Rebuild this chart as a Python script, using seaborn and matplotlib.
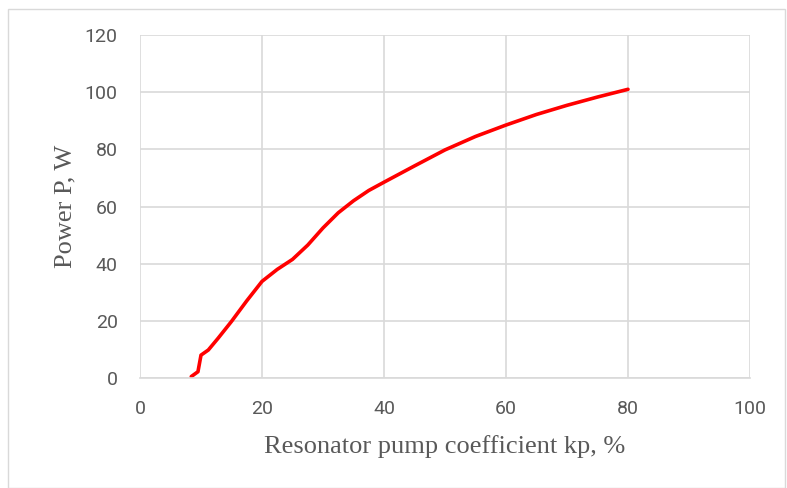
import matplotlib
matplotlib.use("Agg")
import matplotlib.pyplot as plt
import seaborn as sns
import pandas as pd
from matplotlib.patches import Rectangle

# Data
kp = [8.4, 9.5, 10.0, 11.2, 12.8, 15.0, 17.5, 20.0, 22.5, 25.0, 27.5, 30.0,
      32.5, 35.0, 37.5, 40.0, 45.0, 50.0, 55.0, 60.0, 65.0, 70.0, 75.0, 80.0]
power = [0.5, 2.2, 8.0, 9.8, 13.9, 19.8, 27.0, 33.8, 38.0, 41.5, 46.5, 52.5,
         57.8, 62.0, 65.6, 68.5, 74.2, 79.8, 84.5, 88.5, 92.2, 95.4, 98.3, 101.0]

df = pd.DataFrame({"kp": kp, "P": power})

sns.set_style("white")

fig = plt.figure(figsize=(7.87, 4.88), dpi=100)
ax = fig.add_axes([140 / 787, 110 / 488, 610 / 787, 343 / 488])

sns.lineplot(data=df, x="kp", y="P", ax=ax, color="#ff0000", linewidth=2.6,
             solid_capstyle="round", solid_joinstyle="round")

ax.set_xlim(0, 100)
ax.set_ylim(0, 120)
ax.set_xticks(range(0, 101, 20))
ax.set_yticks(range(0, 121, 20))
ax.grid(True, color="#d9d9d9", linewidth=1.2)
ax.set_axisbelow(True)
for side in ["top", "right", "left"]:
    ax.spines[side].set_visible(False)
ax.spines["bottom"].set_color("#d9d9d9")
ax.spines["bottom"].set_linewidth(1.2)

for lbl in ax.get_xticklabels() + ax.get_yticklabels():
    lbl.set_fontfamily(["Liberation Sans Narrow", "Roboto", "DejaVu Sans"])
    lbl.set_fontsize(14)
    lbl.set_color("#595959")
ax.tick_params(axis="both", length=0)
ax.tick_params(axis="y", pad=16)
ax.tick_params(axis="x", pad=16)

ax.set_xlabel("Resonator pump coefficient kp, %", family="Liberation Serif",
              fontsize=19, color="#595959", labelpad=12)
ax.set_ylabel("Power P, W", family="Liberation Serif", fontsize=19,
              color="#595959", labelpad=6)

# light frame around the whole chart
fig.patches.append(Rectangle((8 / 787, 0), 777 / 787, 479 / 488,
                             transform=fig.transFigure, fill=False,
                             edgecolor="#d9d9d9", linewidth=1.0))

fig.savefig("out.png", dpi=100)
